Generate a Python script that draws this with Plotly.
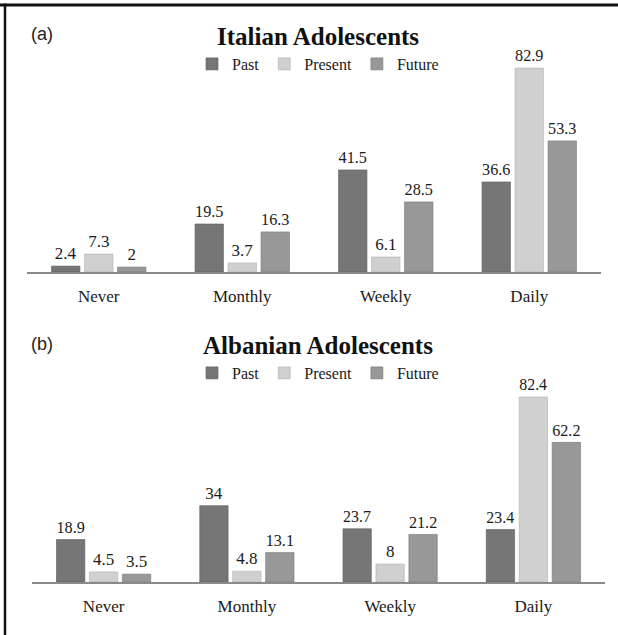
import plotly.graph_objects as go

categories = ["Never", "Monthly", "Weekly", "Daily"]
series_names = ["Past", "Present", "Future"]

italian_past = [2.4, 19.5, 41.5, 36.6]
italian_present = [7.3, 3.7, 6.1, 82.9]
italian_future = [2, 16.3, 28.5, 53.3]

albanian_past = [18.9, 34, 23.7, 23.4]
albanian_present = [4.5, 4.8, 8, 82.4]
albanian_future = [3.5, 13.1, 21.2, 62.2]

W, H = 618, 635
def px_x(x):
    return x / W
def px_y(y):
    return 1 - y / H

colors = {"Past": "#767676", "Present": "#d0d0d0", "Future": "#989898"}
line_colors = {"Past": "#5a5a5a", "Present": "#b0b0b0", "Future": "#767676"}
SERIF = "Liberation Serif"

fig = go.Figure()

panels = [
    ("x", "y", "legend", [italian_past, italian_present, italian_future]),
    ("x2", "y2", "legend2", [albanian_past, albanian_present, albanian_future]),
]
for xa, ya, lg, vals in panels:
    for name, v in zip(series_names, vals):
        fig.add_trace(go.Bar(
            x=categories, y=v, name=name, xaxis=xa, yaxis=ya, legend=lg,
            marker=dict(color=colors[name], line=dict(color=line_colors[name], width=0.6)),
            text=[f"{t:g}" for t in v], textposition="outside", cliponaxis=False,
            textfont=dict(family=SERIF, size=17, color="#1a1a1a"),
        ))

RMAX = 88
a_base, a_scale = 272, 2.46
b_base, b_scale = 582, 2.245

axis_common = dict(showline=True, linecolor="#8a8a8a", linewidth=2, ticks="",
                   tickfont=dict(family=SERIF, size=17, color="#1a1a1a"),
                   ticklabelstandoff=8, showgrid=False, zeroline=False, fixedrange=True)
yaxis_common = dict(visible=False, range=[0, RMAX], showgrid=False, zeroline=False, fixedrange=True)

legend_common = dict(orientation="h", xanchor="center", yanchor="middle",
                     font=dict(family=SERIF, size=16, color="#1a1a1a"), itemwidth=30,
                     bgcolor="rgba(0,0,0,0)")

fig.update_layout(
    width=W, height=H,
    margin=dict(l=0, r=0, t=0, b=0),
    paper_bgcolor="white", plot_bgcolor="white",
    barmode="group", bargap=0.31, bargroupgap=0.14,
    xaxis=dict(domain=[px_x(27), px_x(601)], anchor="y", **axis_common),
    yaxis=dict(domain=[px_y(a_base), px_y(a_base - RMAX * a_scale)], anchor="x", **yaxis_common),
    xaxis2=dict(domain=[px_x(32), px_x(605)], anchor="y2", **axis_common),
    yaxis2=dict(domain=[px_y(b_base), px_y(b_base - RMAX * b_scale)], anchor="x2", **yaxis_common),
    legend=dict(x=px_x(318), y=px_y(64), **legend_common),
    legend2=dict(x=px_x(318), y=px_y(373), **legend_common),
    annotations=[
        dict(text="<b>Italian Adolescents</b>", x=px_x(318), y=px_y(37), xref="paper", yref="paper",
             showarrow=False, font=dict(family=SERIF, size=25, color="#111111"),
             xanchor="center", yanchor="middle"),
        dict(text="<b>Albanian Adolescents</b>", x=px_x(318), y=px_y(345), xref="paper", yref="paper",
             showarrow=False, font=dict(family=SERIF, size=25, color="#111111"),
             xanchor="center", yanchor="middle"),
        dict(text="(a)", x=px_x(29), y=px_y(34), xref="paper", yref="paper", showarrow=False,
             font=dict(family="Liberation Sans", size=18, color="#222222"),
             xanchor="left", yanchor="middle"),
        dict(text="(b)", x=px_x(29), y=px_y(344), xref="paper", yref="paper", showarrow=False,
             font=dict(family="Liberation Sans", size=18, color="#222222"),
             xanchor="left", yanchor="middle"),
    ],
    shapes=[
        dict(type="line", xref="paper", yref="paper", x0=0, x1=1, y0=px_y(5), y1=px_y(5),
             line=dict(color="#111111", width=3), layer="above"),
        dict(type="line", xref="paper", yref="paper", x0=px_x(5), x1=px_x(5), y0=0, y1=px_y(3.5),
             line=dict(color="#111111", width=2.5), layer="above"),
    ],
)

fig.write_html("out.html", config={"displayModeBar": False},
               post_script="document.body.style.margin='0';document.body.style.overflow='hidden';")
